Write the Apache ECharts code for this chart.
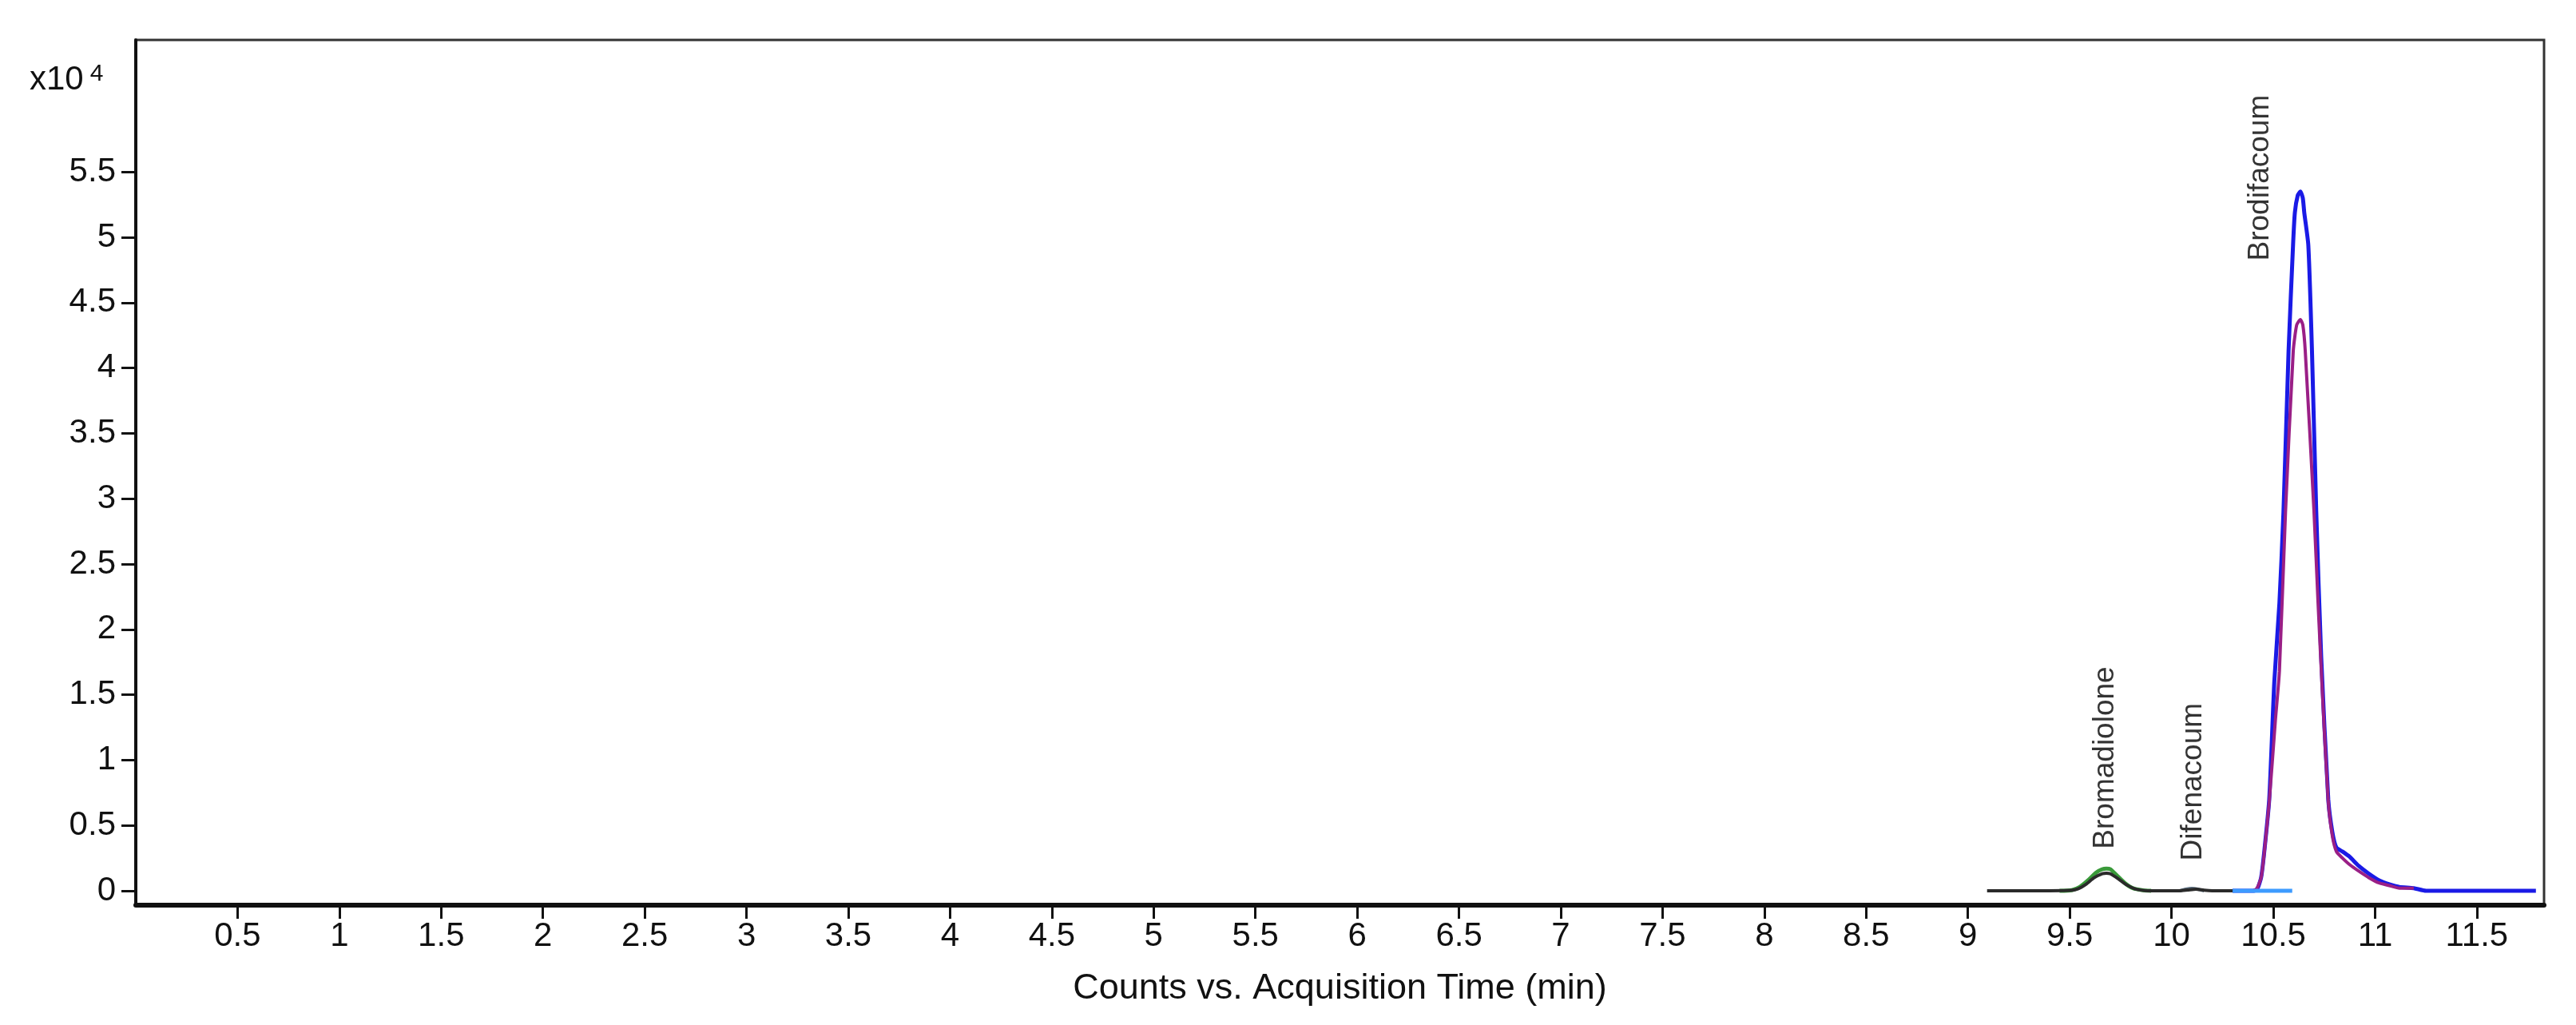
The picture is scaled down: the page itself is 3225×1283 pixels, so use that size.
<!DOCTYPE html>
<html><head><meta charset="utf-8">
<script src="https://cdn.jsdelivr.net/npm/echarts@6/dist/echarts.min.js"></script>
<style>html,body{margin:0;padding:0;background:#fff}#c{width:3225px;height:1283px}</style>
</head><body><div id="c"></div>
<script>
// Tick values
const xTicks = [0.5, 1, 1.5, 2, 2.5, 3, 3.5, 4, 4.5, 5, 5.5, 6, 6.5, 7, 7.5, 8, 8.5, 9, 9.5, 10, 10.5, 11, 11.5];
const yTicks = [0, 0.5, 1, 1.5, 2, 2.5, 3, 3.5, 4, 4.5, 5, 5.5];

// Traces: time (min) and counts (x10^4)
const blackTime   = [9.094, 9.30, 9.50, 9.54, 9.58, 9.62, 9.66, 9.68, 9.70, 9.74, 9.78, 9.82, 9.87, 9.95, 10.04, 10.08, 10.12, 10.16, 10.20, 10.30];
const blackCounts = [0, 0, 0.003, 0.015, 0.05, 0.10, 0.13, 0.135, 0.13, 0.09, 0.045, 0.015, 0.002, 0, 0, 0.006, 0.012, 0.004, 0, 0];

const greenTime   = [9.45, 9.51, 9.55, 9.59, 9.63, 9.66, 9.68, 9.70, 9.73, 9.77, 9.81, 9.86, 9.90];
const greenCounts = [0, 0.005, 0.03, 0.08, 0.14, 0.165, 0.17, 0.165, 0.12, 0.06, 0.02, 0.004, 0];

const grayTime   = [10.04, 10.07, 10.10, 10.13, 10.16];
const grayCounts = [0, 0.012, 0.018, 0.012, 0];

const blueTime   = [10.30, 10.40, 10.42, 10.44, 10.455, 10.48, 10.505, 10.53, 10.55, 10.575, 10.597, 10.606, 10.62, 10.633, 10.645, 10.652, 10.672, 10.69, 10.711, 10.735, 10.77, 10.79, 10.81, 10.84, 10.875, 10.92, 10.97, 11.02, 11.07, 11.12, 11.19, 11.25, 11.79];
const blueCounts = [0, 0, 0.01, 0.1, 0.29, 0.70, 1.6, 2.2, 2.9, 4.13, 4.94, 5.19, 5.32, 5.35, 5.30, 5.19, 4.94, 4.13, 2.9, 1.8, 0.70, 0.45, 0.33, 0.30, 0.26, 0.19, 0.13, 0.08, 0.05, 0.03, 0.02, 0, 0];

const purpleTime   = [10.40, 10.42, 10.44, 10.455, 10.48, 10.51, 10.53, 10.56, 10.598, 10.615, 10.633, 10.645, 10.657, 10.70, 10.72, 10.74, 10.77, 10.79, 10.81, 10.84, 10.875, 10.92, 10.97, 11.02, 11.07, 11.12, 11.19];
const purpleCounts = [0, 0.02, 0.1, 0.28, 0.68, 1.3, 1.68, 2.9, 4.13, 4.33, 4.37, 4.33, 4.13, 2.9, 2.2, 1.55, 0.68, 0.42, 0.30, 0.25, 0.20, 0.15, 0.10, 0.06, 0.04, 0.02, 0.02];

const lightBlueTime   = [10.30, 10.593];
const lightBlueCounts = [0, 0];

// Peak annotations
const peakNames = ['Bromadiolone', 'Difenacoum', 'Brodifacoum'];
const peakTime  = [9.677, 10.106, 10.436];
const peakLabelBase = [0.32, 0.23, 4.82];

const zip = (a, b) => a.map((v, i) => [v, b[i]]);
const FONT = '"Liberation Sans", Arial, sans-serif';

function line(name, t, c, color, width, z) {
  return {
    name, type: 'line', data: zip(t, c), showSymbol: false, smooth: 0.2, z,
    lineStyle: { color, width }, animation: false
  };
}

const chart = echarts.init(document.getElementById('c'), null, { renderer: 'canvas' });
chart.setOption({
  backgroundColor: '#fff',
  animation: false,
  grid: { left: 170, right: 40, top: 50, bottom: 150, show: true, borderColor: '#333', borderWidth: 3, backgroundColor: 'transparent' },
  xAxis: {
    type: 'value', min: 0, max: 11.83,
    axisLine: { show: true, onZero: false, lineStyle: { color: '#111', width: 6 } },
    axisTick: { show: true, customValues: xTicks, length: 17, lineStyle: { color: '#111', width: 3 } },
    axisLabel: { customValues: xTicks, margin: 18, fontFamily: FONT, fontSize: 42, color: '#111',
      formatter: v => String(v) },
    splitLine: { show: false },
    name: 'Counts vs. Acquisition Time (min)', nameLocation: 'middle', nameGap: 82,
    nameTextStyle: { fontFamily: FONT, fontSize: 45, color: '#111' }
  },
  yAxis: {
    type: 'value', min: -0.11, max: 6.51,
    axisLine: { show: true, onZero: false, lineStyle: { color: '#111', width: 4 } },
    axisTick: { show: true, customValues: yTicks, length: 18, lineStyle: { color: '#111', width: 3 } },
    axisLabel: { customValues: yTicks, margin: 25, fontFamily: FONT, fontSize: 42, color: '#111',
      formatter: v => String(v) },
    splitLine: { show: false }
  },
  graphic: [{
    type: 'text', left: 37, top: 78, z: 10,
    style: {
      text: '{a|x10}{b|4}',
      rich: {
        a: { fontFamily: FONT, fontSize: 42, fill: '#111' },
        b: { fontFamily: FONT, fontSize: 30, fill: '#111', verticalAlign: 'top', padding: [0, 0, 14, 8] }
      }
    }
  }],
  series: [
    line('blue', blueTime, blueCounts, '#1a1ae6', 5, 2),
    line('purple', purpleTime, purpleCounts, '#9a1f86', 4, 3),
    line('lightblue', lightBlueTime, lightBlueCounts, '#3d9bff', 5, 4),
    line('green', greenTime, greenCounts, '#3a9a3a', 5, 2),
    line('gray', grayTime, grayCounts, '#5a6e80', 4, 3),
    line('black', blackTime, blackCounts, '#2a2a2a', 4, 4),
    {
      type: 'scatter', symbolSize: 0, z: 6, animation: false,
      data: peakNames.map((n, i) => ({ value: [peakTime[i], peakLabelBase[i]], name: n })),
      label: {
        show: true, position: 'inside', rotate: 90, align: 'left', verticalAlign: 'middle',
        formatter: p => p.name, fontFamily: FONT, fontSize: 37, color: '#000'
      }
    }
  ]
});
</script></body></html>
